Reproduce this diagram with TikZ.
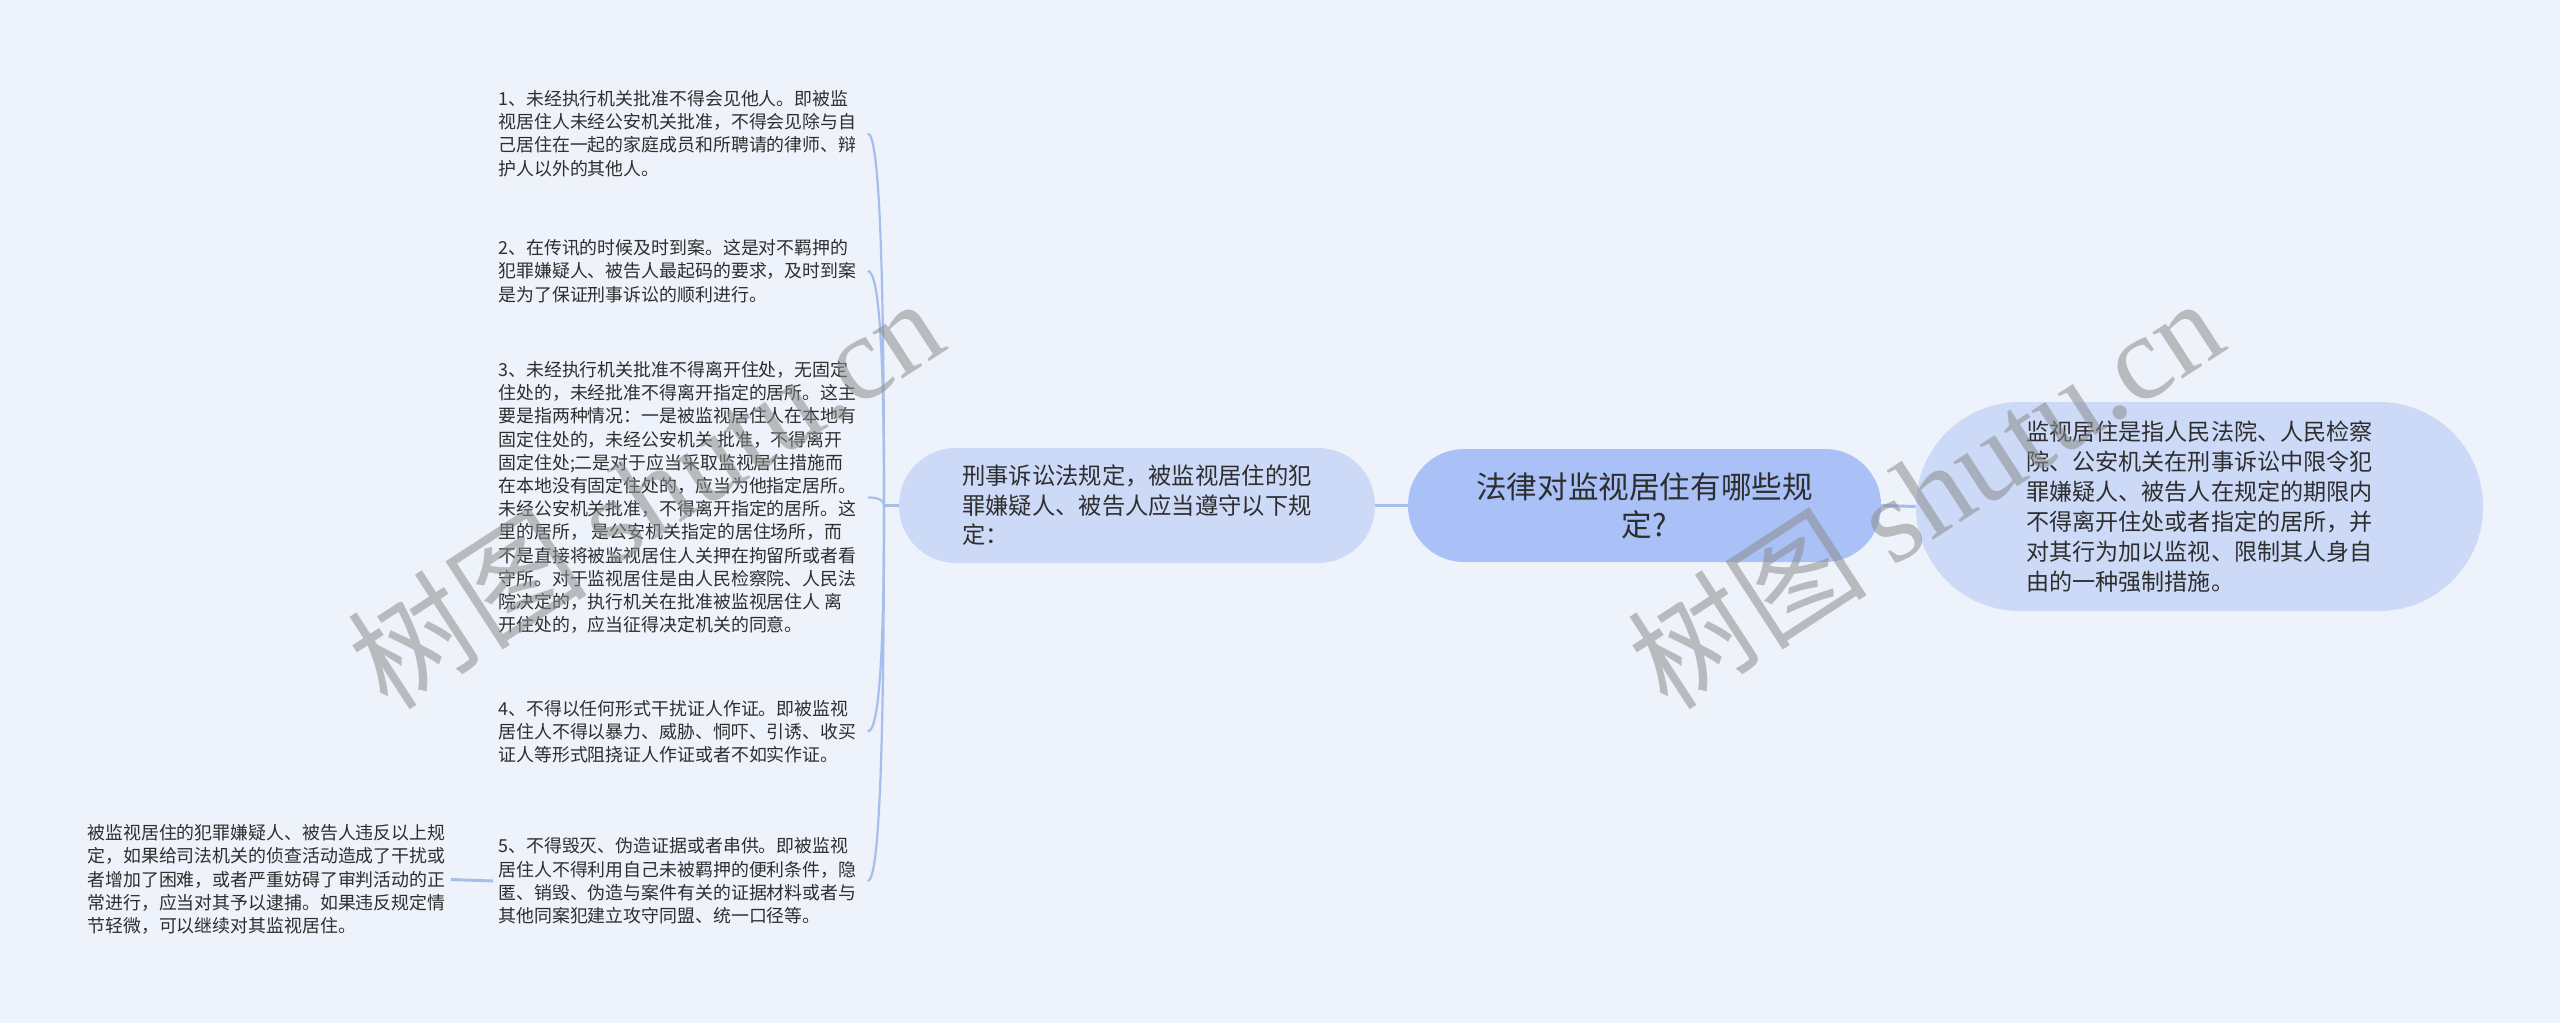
\documentclass[tikz,border=0pt]{standalone}
\usepackage{fontspec}
\setmainfont{Noto Sans CJK SC}
\newfontfamily\wmlatin{Liberation Serif}
\definecolor{bgc}{HTML}{EEF2FA}
\definecolor{lightnode}{HTML}{CCDAF8}
\definecolor{rootnode}{HTML}{A9C1F7}
\definecolor{linec}{HTML}{A6BEEC}
\definecolor{txt}{HTML}{2E2E2E}
\definecolor{wmc}{HTML}{8C8C8C}
\begin{document}
\begin{tikzpicture}[x=0.5pt,y=-0.5pt,
  item/.style={anchor=west, inner xsep=2.5pt, inner ysep=0pt, align=left, text=txt, font=\fontsize{8.95}{11.6}\selectfont},
  pillnode/.style={rectangle, fill=lightnode, text=txt, inner sep=0pt, align=left},
  conn/.style={draw=linec, line width=1.5pt},
  branch/.style={draw=linec, line width=1.1pt},
  wmark/.style={text=wmc, opacity=0.55, rotate=33, inner sep=0pt}
]
\useasboundingbox (0,0) rectangle (2560,1023);
\fill[bgc] (0,0) rectangle (2560,1023);

% main nodes
\node[pillnode, minimum width=238pt, minimum height=57.5pt, rounded corners=28.5pt,
      font=\fontsize{11.65}{14.75}\selectfont] (mid) at (1137,505.5)
  {刑事诉讼法规定，被监视居住的犯\\罪嫌疑人、被告人应当遵守以下规\\定：};
\node[pillnode, fill=rootnode, align=center, minimum width=236.5pt, minimum height=56.5pt, rounded corners=28pt,
      font=\fontsize{15.3}{19}\selectfont] (root) at (1644.5,505.5)
  {法律对监视居住有哪些规\\定?};
\node[pillnode, minimum width=283.5pt, minimum height=104.5pt, rounded corners=52pt,
      font=\fontsize{11.55}{15}\selectfont] (right) at (2199.5,506.5)
  {监视居住是指人民法院、人民检察\\院、公安机关在刑事诉讼中限令犯\\罪嫌疑人、被告人在规定的期限内\\不得离开住处或者指定的居所，并\\对其行为加以监视、限制其人身自\\由的一种强制措施。};

% items
\node[item] (i1) at (493,133.5)
  {1、未经执行机关批准不得会见他人。即被监\\视居住人未经公安机关批准，不得会见除与自\\己居住在一起的家庭成员和所聘请的律师、辩\\护人以外的其他人。};
\node[item] (i2) at (493,271)
  {2、在传讯的时候及时到案。这是对不羁押的\\犯罪嫌疑人、被告人最起码的要求，及时到案\\是为了保证刑事诉讼的顺利进行。};
\node[item] (i3) at (493,497.5)
  {3、未经执行机关批准不得离开住处，无固定\\住处的，未经批准不得离开指定的居所。这主\\要是指两种情况：一是被监视居住人在本地有\\固定住处的，未经公安机关 批准，不得离开\\固定住处;二是对于应当采取监视居住措施而\\在本地没有固定住处的，应当为他指定居所。\\未经公安机关批准，不得离开指定的居所。这\\里的居所， 是公安机关指定的居住场所，而\\不是直接将被监视居住人关押在拘留所或者看\\守所。对于监视居住是由人民检察院、人民法\\院决定的，执行机关在批准被监视居住人 离\\开住处的，应当征得决定机关的同意。};
\node[item] (i4) at (493,731.5)
  {4、不得以任何形式干扰证人作证。即被监视\\居住人不得以暴力、威胁、恫吓、引诱、收买\\证人等形式阻挠证人作证或者不如实作证。};
\node[item] (i5) at (493,881)
  {5、不得毁灭、伪造证据或者串供。即被监视\\居住人不得利用自己未被羁押的便利条件，隐\\匿、销毁、伪造与案件有关的证据材料或者与\\其他同案犯建立攻守同盟、统一口径等。};
\node[item] (far) at (82,879.5)
  {被监视居住的犯罪嫌疑人、被告人违反以上规\\定，如果给司法机关的侦查活动造成了干扰或\\者增加了困难，或者严重妨碍了审判活动的正\\常进行，应当对其予以逮捕。如果违反规定情\\节轻微，可以继续对其监视居住。};

% connectors
\draw[conn] (root.west) -- (mid.east);
\draw[conn] (root.east) -- (right.west);
\coordinate (jn) at (884,505.5);
\draw[conn] (mid.west) -- (jn);
\draw[branch] (jn) .. controls (884,282) and (880,133.5) .. ([xshift=3pt]i1.east);
\draw[branch] (jn) .. controls (884,365) and (880,271) .. ([xshift=3pt]i2.east);
\draw[branch] (jn) .. controls (884,501) and (880,497.5) .. ([xshift=3pt]i3.east);
\draw[branch] (jn) .. controls (884,641) and (880,731.5) .. ([xshift=3pt]i4.east);
\draw[branch] (jn) .. controls (884,731) and (880,881) .. ([xshift=3pt]i5.east);
\draw[conn] (far.east) -- (i5.west);

% watermarks
\node[wmark, font=\fontsize{60}{64}\selectfont] (wm1) at (645,492) {树图 {\wmlatin shutu.cn}};
\node[wmark, font=\fontsize{60}{64}\selectfont] (wm2) at (1925,492) {树图 {\wmlatin shutu.cn}};
\end{tikzpicture}
\end{document}
